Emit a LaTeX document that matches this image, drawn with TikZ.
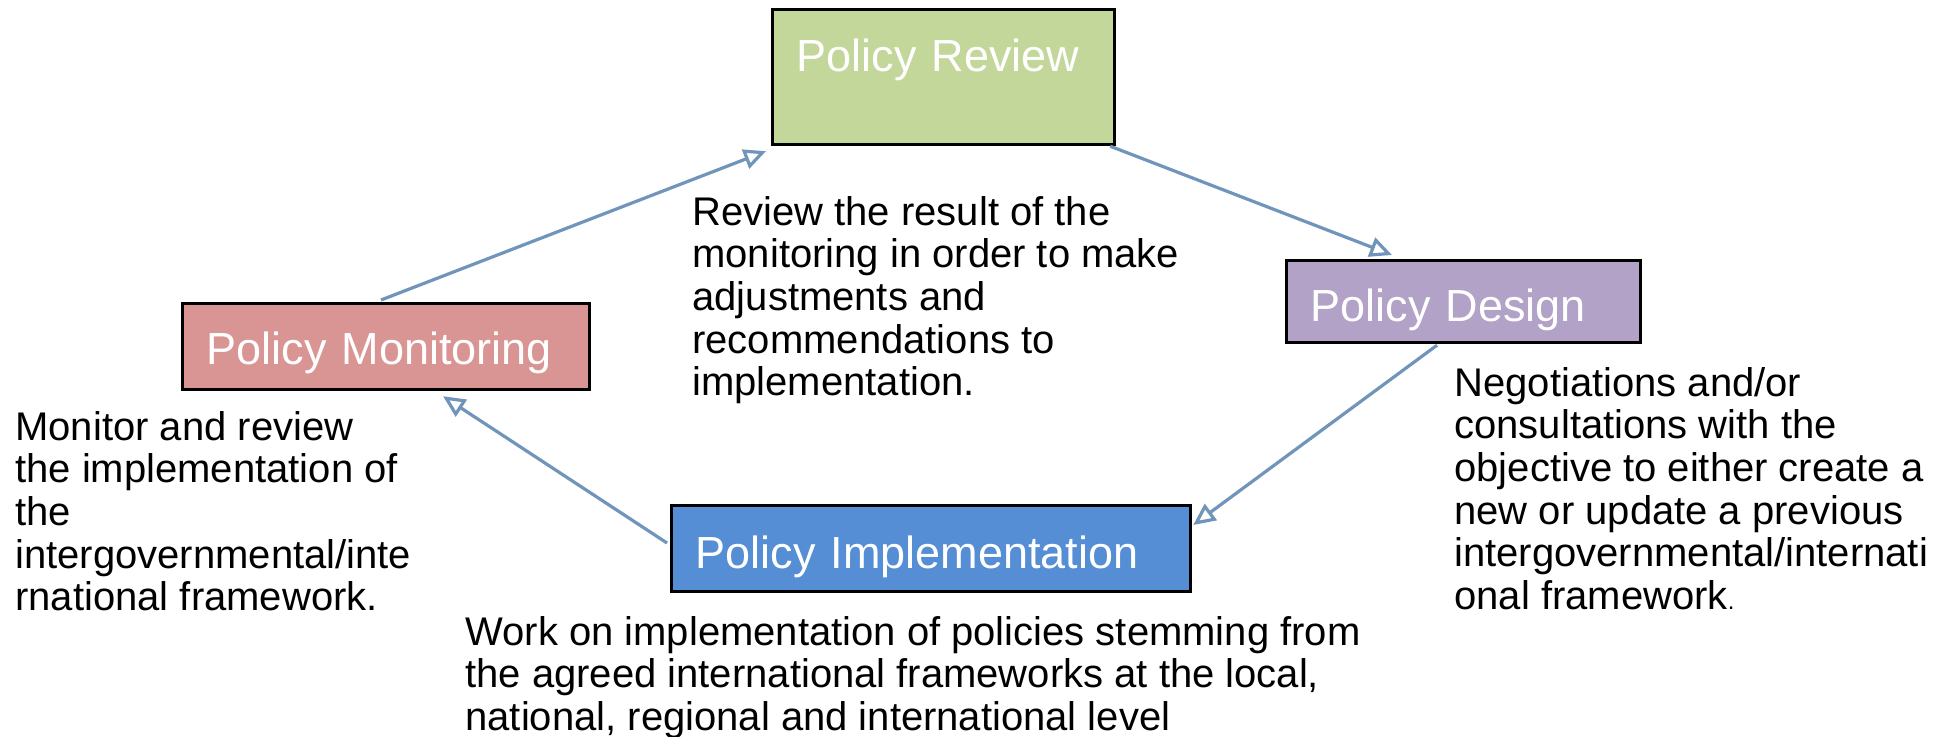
\documentclass[tikz,border=0pt]{standalone}
\usepackage{fontspec}
\setmainfont{Liberation Sans}
\usetikzlibrary{arrows.meta,calc}

\definecolor{verdeRev}{RGB}{196,215,155}
\definecolor{lilaDis}{RGB}{178,162,199}
\definecolor{rojoMon}{RGB}{217,149,148}
\definecolor{azulImp}{RGB}{85,142,213}
\definecolor{azulFlecha}{RGB}{112,148,186}

\begin{document}
\begin{tikzpicture}[x=0.5pt, y=-0.5pt,
	etapa/.style={draw=black, line width=1.6pt, text=white, inner xsep=12pt, inner ysep=0pt, anchor=north west, align=left, font=\fontsize{22.5pt}{24pt}\selectfont},
	nota/.style={inner sep=0pt, anchor=north west, align=left, font=\fontsize{20pt}{21.3pt}\selectfont},
	flecha/.style={draw=azulFlecha, line width=1.6pt, -{Triangle[open, length=11pt, width=10pt]}}]
	
	% Área del dibujo
	\useasboundingbox (0,0) rectangle (1953,737);
	
	% Cajas de las etapas
	\node[etapa, fill=verdeRev, text width=147pt, text height=31pt, text depth=36.5pt] (rev) at (771,8) {Policy Review};
	\node[etapa, fill=lilaDis, text width=153pt, text height=30.5pt, text depth=10.5pt] (dis) at (1285,259) {Policy Design};
	\node[etapa, fill=rojoMon, text width=179.5pt, text height=30.5pt, text depth=12.5pt] (mon) at (181,302) {Policy Monitoring};
	\node[etapa, fill=azulImp, text width=235.5pt, text height=31.5pt, text depth=11.5pt] (imp) at (670,504) {Policy Implementation};
	
	% Textos de cada etapa
	\node[nota] (revtxt) at (692,196) {Review the result of the\\monitoring in order to make\\adjustments and\\recommendations to\\implementation.};
	\node[nota] (distxt) at (1454,367) {Negotiations and/or\\consultations with the\\objective to either create a\\new or update a previous\\intergovernmental/internati\\onal framework{\fontsize{12pt}{12pt}\selectfont .}};
	\node[nota] (montxt) at (15,411) {Monitor and review\\the implementation of\\the\\intergovernmental/inte\\rnational framework.};
	\node[nota] (imptxt) at (465,616) {Work on implementation of policies stemming from\\the agreed international frameworks at the local,\\national, regional and international level};
	
	% Flechas del ciclo
	\draw[flecha] ($(mon.north west)+(200,-2)$) -- ($(rev.south west)+(-5,5)$);
	\draw[flecha] ($(rev.south east)+(-6,0)$) -- ($(dis.north west)+(107,-4)$);
	\draw[flecha] ($(dis.south west)+(152,1)$) -- ($(imp.north east)+(1,21)$);
	\draw[flecha] ($(imp.north west)+(-3,39)$) -- ($(mon.south west)+(262,5)$);
	
\end{tikzpicture}
\end{document}
